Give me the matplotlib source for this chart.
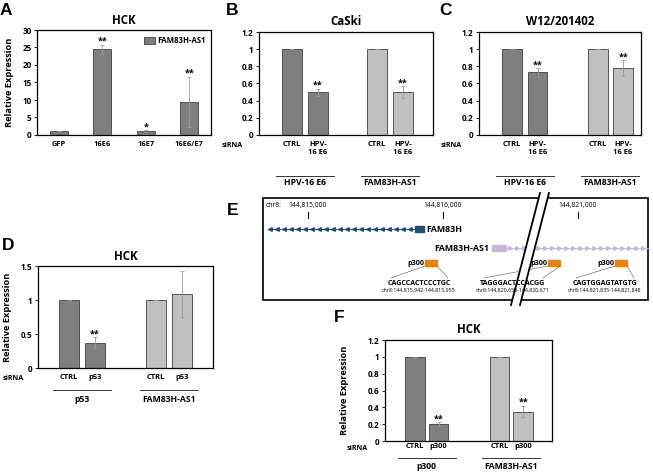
import numpy as np
import matplotlib
matplotlib.use('Agg')
import matplotlib.pyplot as plt
from matplotlib.patches import Rectangle, Polygon
from matplotlib.ticker import FuncFormatter

plt.rcParams['font.family'] = ['Open Sans', 'DejaVu Sans']
plt.rcParams['font.weight'] = 'bold'
plt.rcParams['axes.titleweight'] = 'bold'
plt.rcParams['axes.labelweight'] = 'bold'

W, H = 653, 473
DARK = '#7f7f7f'
LIGHT = '#c0c0c0'
EDGE = '#404040'
ERR = '#9a9a9a'

# A: HCK overexpression
a_cats = ['GFP', '16E6', '16E7', '16E6/E7']
a_vals = [1.0, 24.5, 1.1, 9.5]
a_err = [0.0, 1.3, 0.3, 7.2]
a_stars = ['', '**', '*', '**']

# B: CaSki knockdown
b_vals = [1.0, 0.50, 1.0, 0.50]
b_err = [0.0, 0.04, 0.0, 0.07]
b_stars = ['', '**', '', '**']

# C: W12/201402 knockdown
c_vals = [1.0, 0.73, 1.0, 0.78]
c_err = [0.0, 0.05, 0.0, 0.09]
c_stars = ['', '**', '', '**']

# D: HCK p53
d_vals = [1.0, 0.37, 1.0, 1.09]
d_err = [0.0, 0.08, 0.0, 0.34]
d_stars = ['', '**', '', '']

# F: HCK p300
f_vals = [1.0, 0.20, 1.0, 0.35]
f_err = [0.0, 0.02, 0.0, 0.07]
f_stars = ['', '**', '', '**']

e6_ticks = ['CTRL', 'HPV-\n16 E6', 'CTRL', 'HPV-\n16 E6']
e6_groups = ['HPV-16 E6', 'FAM83H-AS1']
p53_ticks = ['CTRL', 'p53', 'CTRL', 'p53']
p53_groups = ['p53', 'FAM83H-AS1']
p300_ticks = ['CTRL', 'p300', 'CTRL', 'p300']
p300_groups = ['p300', 'FAM83H-AS1']

# E: locus schematic
e_ticks = ['144,815,000', '144,816,000', '144,821,000']
e_sites = ['CAGCCACTCCCTGC', 'TAGGGACTCCACGG', 'CAGTGGAGTATGTG']
e_coords = ['chr8:144,815,942-144,815,955', 'chr8:144,820,658-144,820,671',
            'chr8:144,821,835-144,821,848']

fig = plt.figure(figsize=(W / 100, H / 100), dpi=100)

ov = fig.add_axes([0, 0, 1, 1])
ov.set_xlim(0, W)
ov.set_ylim(H, 0)
ov.axis('off')


def px_axes(l, t, r, b):
    return fig.add_axes([l / W, 1 - b / H, (r - l) / W, (b - t) / H])


def to_px(ax, x):
    return ax.transData.transform((x, 0))[0]


def style(ax, ymax, step):
    ax.set_ylim(0, ymax)
    ax.set_yticks(np.arange(0, ymax + step / 2, step))
    ax.yaxis.set_major_formatter(FuncFormatter(lambda v, p: '%g' % round(v, 2)))
    ax.tick_params(axis='y', labelsize=5.9, length=2.5, width=0.6, pad=1.5)
    ax.tick_params(axis='x', length=0)
    for t in ax.get_yticklabels():
        t.set_fontweight('bold')
    for s in ax.spines.values():
        s.set_linewidth(0.9)


def bars(ax, pos, vals, errs, stars, colors, width):
    ax.bar(pos, vals, width=width, color=colors, edgecolor=EDGE, linewidth=0.6, zorder=2)
    ax.errorbar(pos, vals, yerr=errs, fmt='none', ecolor=ERR, elinewidth=0.6,
                capsize=1.5, capthick=0.6, zorder=3)
    for x, v, e, s in zip(pos, vals, errs, stars):
        if s:
            ax.annotate(s, (x, v + e), xytext=(0, -1), textcoords='offset points',
                        ha='center', va='bottom', fontsize=6.5)


def under(ax, pos, ticks, groups, y_tick, y_line, y_group, sx, sy):
    for x, t in zip(pos, ticks):
        ov.text(to_px(ax, x), y_tick, t, ha='center', va='top', fontsize=5.4,
                linespacing=1.2)
    for g, (i, j) in zip(groups, [(0, 1), (2, 3)]):
        c = (to_px(ax, pos[i]) + to_px(ax, pos[j])) / 2
        ov.plot([c - 29, c + 29], [y_line, y_line], color='#333333', lw=0.7)
        ov.text(c, y_group, g, ha='center', va='top', fontsize=6.2)
    ov.text(sx, sy, 'siRNA', ha='left', va='top', fontsize=5.1)


kd_colors = [DARK, DARK, LIGHT, LIGHT]

# ---- A
axA = px_axes(37, 30, 211, 135)
xa = np.arange(len(a_cats))
axA.bar(xa, a_vals, width=0.42, color=DARK, edgecolor=EDGE, linewidth=0.6,
        zorder=2, label='FAM83H-AS1')
axA.errorbar(xa, a_vals, yerr=a_err, fmt='none', ecolor=ERR, elinewidth=0.6,
             capsize=1.5, capthick=0.6, zorder=3)
for x, v, e, s in zip(xa, a_vals, a_err, a_stars):
    if s:
        axA.annotate(s, (x, v + e), xytext=(0, -1), textcoords='offset points',
                     ha='center', va='bottom', fontsize=6.5)
axA.set_xlim(-0.5, 3.5)
style(axA, 30, 5)
axA.set_xticks(xa, a_cats, fontsize=5.4, fontweight='bold')
axA.tick_params(axis='x', pad=4)
axA.set_title('HCK', fontsize=8.3, pad=4)
axA.set_ylabel('Relative Expression', fontsize=6.7)
axA.yaxis.set_label_coords(-0.135, 0.5)
axA.legend(frameon=False, fontsize=5.6, loc='upper right', bbox_to_anchor=(0.99, 0.97),
           handlelength=1.3, handleheight=1.1, borderaxespad=0, handletextpad=0.4)

# ---- B
axB = px_axes(259, 32, 433, 135)
pb = [0, 1, 3.27, 4.27]
bars(axB, pb, b_vals, b_err, b_stars, kd_colors, 0.77)
axB.set_xlim(-1.27, 5.42)
style(axB, 1.2, 0.2)
axB.set_xticks([])
axB.set_title('CaSki', fontsize=8.3, pad=5)
under(axB, pb, e6_ticks, e6_groups, 141, 176, 178, 222, 142)

# ---- C
axC = px_axes(479, 32, 641, 135)
pc = [0, 1, 3.35, 4.35]
bars(axC, pc, c_vals, c_err, c_stars, kd_colors, 0.78)
axC.set_xlim(-1.29, 5.05)
style(axC, 1.2, 0.2)
axC.set_xticks([])
axC.set_title('W12/201402', fontsize=8.3, pad=5)
under(axC, pc, e6_ticks, e6_groups, 141, 176, 178, 441, 142)

# ---- D
axD = px_axes(38, 266, 213, 368)
pd_ = [0, 1, 3.35, 4.35]
bars(axD, pd_, d_vals, d_err, d_stars, kd_colors, 0.77)
axD.set_xlim(-1.19, 5.54)
style(axD, 1.5, 0.5)
axD.set_xticks([])
axD.set_title('HCK', fontsize=8.3, pad=4)
axD.set_ylabel('Relative Expression', fontsize=6.7)
axD.yaxis.set_label_coords(-0.147, 0.5)
under(axD, pd_, p53_ticks, p53_groups, 374, 390, 395, 3, 375)

# ---- F
axF = px_axes(385, 340, 552, 441)
pf = [0, 1, 3.6, 4.6]
bars(axF, pf, f_vals, f_err, f_stars, kd_colors, 0.82)
axF.set_xlim(-1.28, 5.83)
style(axF, 1.2, 0.2)
axF.set_xticks([])
axF.set_title('HCK', fontsize=8.3, pad=5)
axF.set_ylabel('Relative Expression', fontsize=6.7)
axF.yaxis.set_label_coords(-0.215, 0.5)
under(axF, pf, p300_ticks, p300_groups, 443, 458, 462, 347, 445)

# ---- E schematic (pixel grid)
ov.add_patch(Rectangle((263, 198), 385, 102, fill=False, ec='black', lw=1.2, zorder=2))
ov.text(266, 207, 'chr8:', fontsize=4.9, fontweight='normal', va='baseline')
for t, x in zip(e_ticks, [308, 443, 578]):
    ov.text(x, 207, t, fontsize=4.9, fontweight='normal', ha='center', va='baseline')
    ov.plot([x, x], [212, 218], color='black', lw=0.8)

# FAM83H (minus strand)
ov.plot([268, 416], [229, 229], color='#1f4e79', lw=0.8, zorder=3)
arr = np.arange(270, 414, 7)
ov.plot(arr, [229] * len(arr), ls='none', marker='<', ms=2.6, color='#1f4e79', zorder=3)
ov.add_patch(Rectangle((415, 226), 9, 6, color='#1f4e79', zorder=3))
ov.text(426, 229, 'FAM83H', fontsize=6.4, va='center', ha='left')

# FAM83H-AS1 (plus strand)
ov.plot([505, 648], [248, 248], color='#c6b7da', lw=0.8, zorder=3)
arr = np.arange(510, 647, 7)
ov.plot(arr, [248] * len(arr), ls='none', marker='>', ms=2.6, color='#c6b7da', zorder=3)
ov.add_patch(Rectangle((492, 245), 14, 6, color='#c6b7da', zorder=3))
ov.text(489, 248, 'FAM83H-AS1', fontsize=6.4, va='center', ha='right')

# p300 sites
site_box = [425, 548, 615]
site_text = [419, 513, 605]
site_span = [(391, 448), (484, 543), (576, 634)]
for bx, tx, (s0, s1), seq, co in zip(site_box, site_text, site_span, e_sites, e_coords):
    ov.add_patch(Rectangle((bx, 260), 12, 6, color='#e8820c', zorder=3))
    ov.text(bx - 1, 263, 'p300', fontsize=5.2, ha='right', va='center', zorder=5)
    ov.plot([bx, s0], [266, 278], color='#555555', lw=0.4, zorder=3)
    ov.plot([bx + 12, s1], [266, 278], color='#555555', lw=0.4, zorder=3)
    ov.text(tx, 285, seq, fontsize=5.1, ha='center', va='baseline', zorder=5)
    ov.text(tx, 291.5, co, fontsize=3.8, fontweight='normal', ha='center',
            va='baseline', zorder=5)

# axis break
ov.add_patch(Polygon([(511, 305), (540, 193), (549, 193), (520, 305)],
                     closed=True, fc='white', ec='none', zorder=4))
ov.plot([511, 540], [305, 193], color='black', lw=1.3, zorder=4)
ov.plot([520, 549], [305, 193], color='black', lw=1.3, zorder=4)

# panel letters
for lab, x, y in [('A', 0, 15), ('B', 226, 15), ('C', 439, 15), ('D', 2, 250),
                  ('E', 227, 215), ('F', 334, 322)]:
    ov.text(x, y, lab, fontsize=12.5, fontweight='bold', family='Liberation Sans',
            va='baseline', ha='left')

fig.savefig('out.png', dpi=100)
